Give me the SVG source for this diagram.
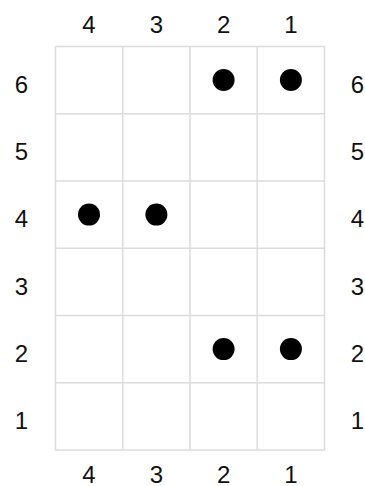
<svg xmlns="http://www.w3.org/2000/svg" width="365" height="486" viewBox="0 0 365 486">
<style>
.g{stroke:#dcdcdc;stroke-width:1.5;fill:none}
.t{font-family:"Liberation Sans",Arial,sans-serif;font-size:24px;fill:#111;text-anchor:middle}
.d{fill:#000}
</style>
<rect width="365" height="486" fill="#fff"/>
<g id="grid">
<rect class="g" x="55.5" y="46.5" width="269" height="403.5"/>
<path class="g" d="M122.75 46.5V450M190 46.5V450M257.25 46.5V450M55.5 113.75H324.5M55.5 181H324.5M55.5 248.25H324.5M55.5 315.5H324.5M55.5 382.75H324.5"/>
</g>
<g id="top-labels">
<text class="t" x="89" y="32.5">4</text>
<text class="t" x="156.4" y="32.5">3</text>
<text class="t" x="223.6" y="32.5">2</text>
<text class="t" x="290.9" y="32.5">1</text>
</g>
<g id="bottom-labels">
<text class="t" x="89" y="482.5">4</text>
<text class="t" x="156.4" y="482.5">3</text>
<text class="t" x="223.6" y="482.5">2</text>
<text class="t" x="290.9" y="482.5">1</text>
</g>
<g id="left-labels">
<text class="t" x="21.5" y="92.5">6</text>
<text class="t" x="21.5" y="160">5</text>
<text class="t" x="21.5" y="227">4</text>
<text class="t" x="21.5" y="294.5">3</text>
<text class="t" x="21.5" y="361.5">2</text>
<text class="t" x="21.5" y="429">1</text>
</g>
<g id="right-labels">
<text class="t" x="357.5" y="92.5">6</text>
<text class="t" x="357.5" y="160">5</text>
<text class="t" x="357.5" y="227">4</text>
<text class="t" x="357.5" y="294.5">3</text>
<text class="t" x="357.5" y="361.5">2</text>
<text class="t" x="357.5" y="429">1</text>
</g>
<g id="dots">
<circle class="d" cx="223.6" cy="80" r="11"/>
<circle class="d" cx="290.9" cy="80" r="11"/>
<circle class="d" cx="89" cy="214.6" r="11"/>
<circle class="d" cx="156.4" cy="214.6" r="11"/>
<circle class="d" cx="223.6" cy="349.1" r="11"/>
<circle class="d" cx="290.9" cy="349.1" r="11"/>
</g>
</svg>
